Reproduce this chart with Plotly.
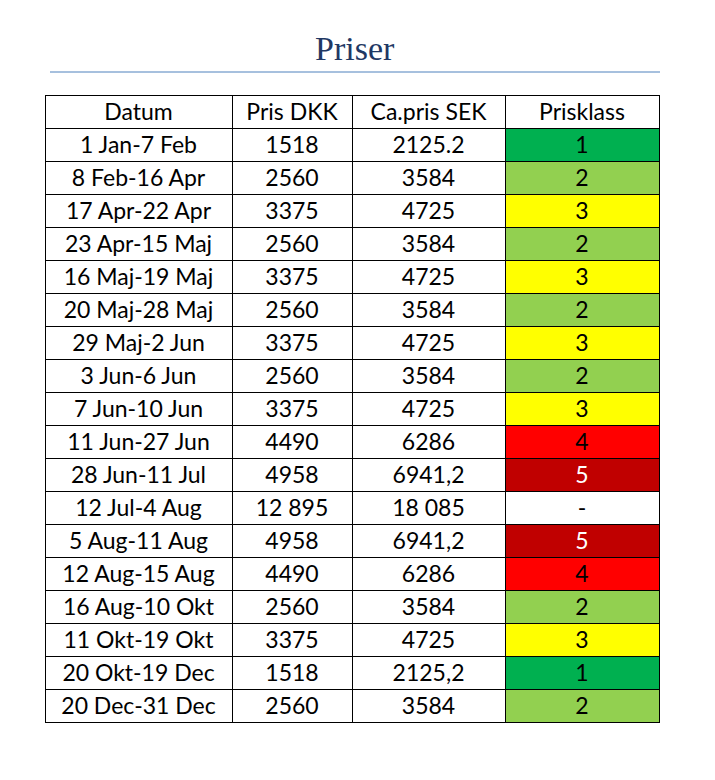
import plotly.graph_objects as go

headers = ["Datum", "Pris DKK", "Ca.pris SEK", "Prisklass"]
datum = ["1 Jan-7 Feb", "8 Feb-16 Apr", "17 Apr-22 Apr", "23 Apr-15 Maj", "16 Maj-19 Maj",
         "20 Maj-28 Maj", "29 Maj-2 Jun", "3 Jun-6 Jun", "7 Jun-10 Jun", "11 Jun-27 Jun",
         "28 Jun-11 Jul", "12 Jul-4 Aug", "5 Aug-11 Aug", "12 Aug-15 Aug", "16 Aug-10 Okt",
         "11 Okt-19 Okt", "20 Okt-19 Dec", "20 Dec-31 Dec"]
pris_dkk = ["1518", "2560", "3375", "2560", "3375", "2560", "3375", "2560", "3375", "4490",
            "4958", "12 895", "4958", "4490", "2560", "3375", "1518", "2560"]
pris_sek = ["2125.2", "3584", "4725", "3584", "4725", "3584", "4725", "3584", "4725", "6286",
            "6941,2", "18 085", "6941,2", "6286", "3584", "4725", "2125,2", "3584"]
prisklass = ["1", "2", "3", "2", "3", "2", "3", "2", "3", "4", "5", "-", "5", "4", "2", "3", "1", "2"]

klass_fill = {"1": "#00B050", "2": "#92D050", "3": "#FFFF00", "4": "#FF0000", "5": "#C00000", "-": "#FFFFFF"}
klass_font = {"5": "#FFFFFF"}

n = len(datum)
fills = [["white"] * n, ["white"] * n, ["white"] * n, [klass_fill[k] for k in prisklass]]
fcols = [["black"] * n, ["black"] * n, ["black"] * n, [klass_font.get(k, "black") for k in prisklass]]

W, H = 715, 780
fig = go.Figure(go.Table(
    columnwidth=[187, 120, 153, 154],
    header=dict(values=headers, fill_color="white", line=dict(color="black", width=1),
                font=dict(family="Lato, Carlito, sans-serif", size=23, color="black"),
                align="center", height=33),
    cells=dict(values=[datum, pris_dkk, pris_sek, prisklass], fill_color=fills,
               line=dict(color="black", width=1),
               font=dict(family="Lato, Carlito, sans-serif", size=23, color=fcols),
               align="center", height=33),
    domain=dict(x=[37 / W, 651 / W], y=[0, 1 - 87 / H]),
))
fig.add_annotation(text="Priser", x=347 / W, y=1 - 40 / H, xref="paper", yref="paper",
                   xanchor="center", yanchor="middle",
                   showarrow=False, font=dict(family="Liberation Serif, serif", size=34, color="#1F3864"))
fig.add_shape(type="line", x0=42 / W, x1=652 / W, y0=1 - 64 / H, y1=1 - 64 / H,
              xref="paper", yref="paper", line=dict(color="#4F81BD", width=1))
fig.update_layout(width=W, height=H, margin=dict(l=0, r=0, t=0, b=0),
                  paper_bgcolor="white", plot_bgcolor="white")
fig.write_html("out.html")
